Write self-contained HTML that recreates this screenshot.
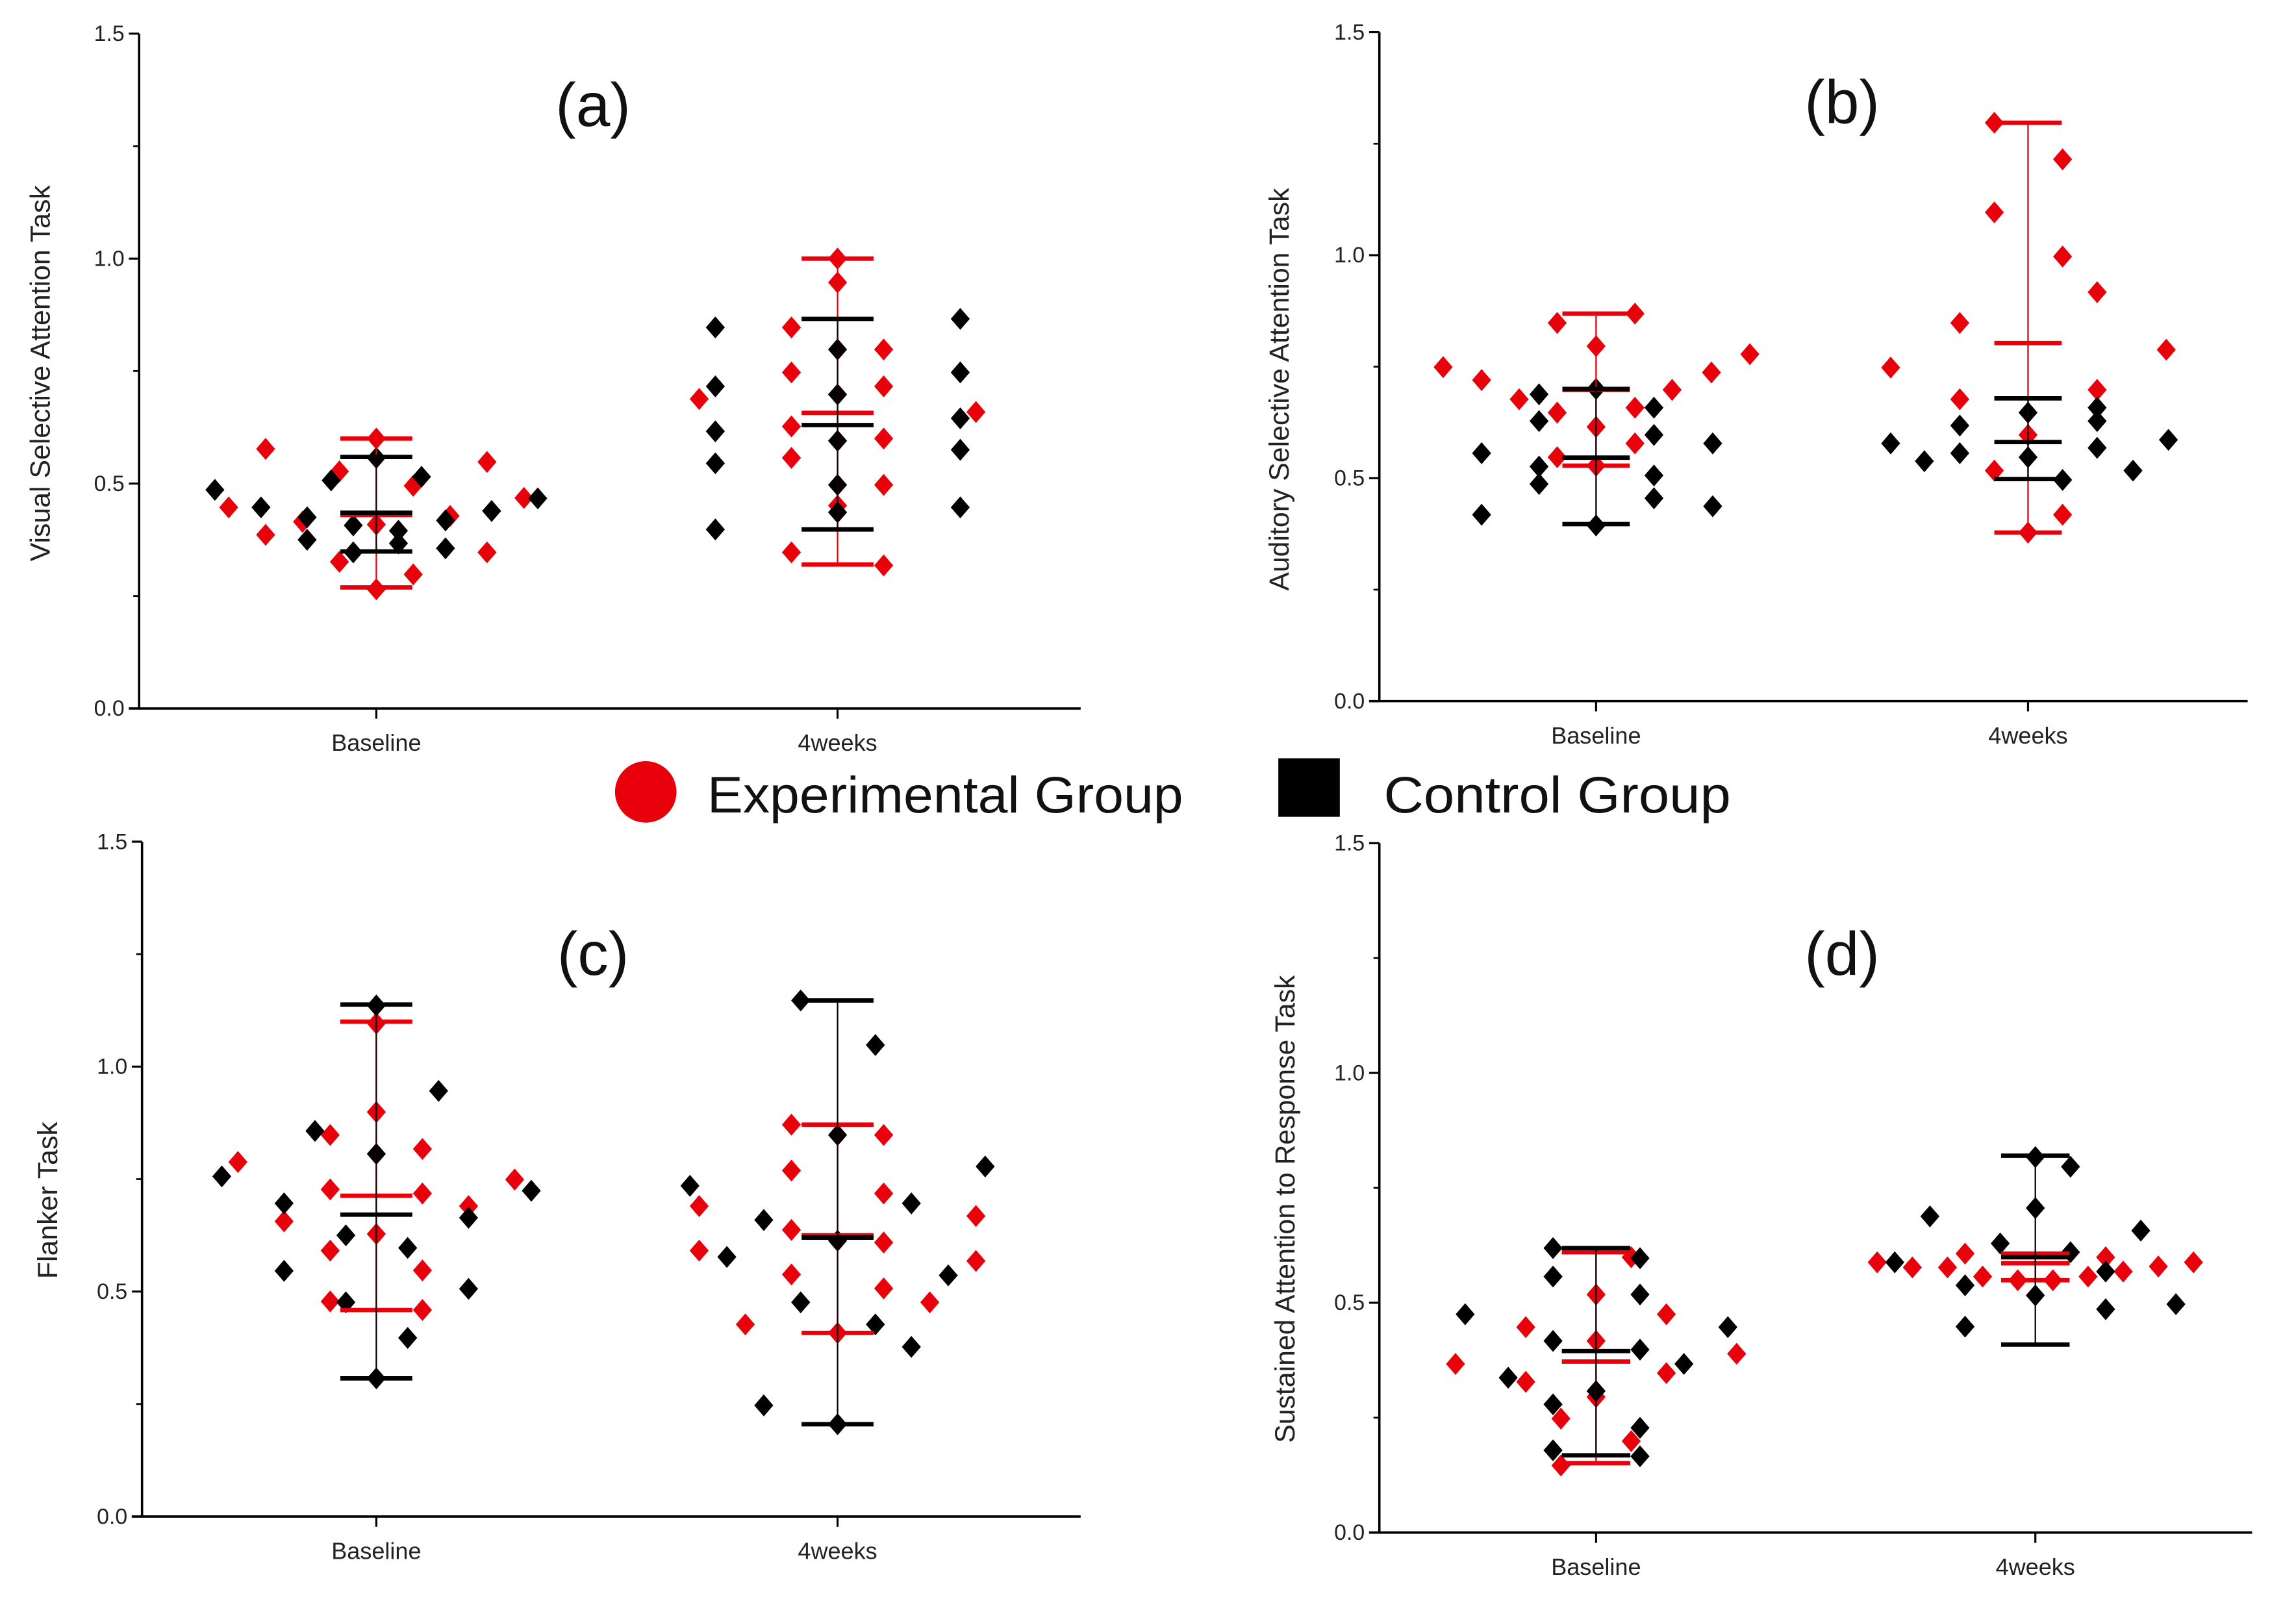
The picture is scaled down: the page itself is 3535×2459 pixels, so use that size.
<!DOCTYPE html>
<html><head><meta charset="utf-8"><style>
html,body{margin:0;padding:0;background:#fff;}
svg{display:block;}
text{font-family:"Liberation Sans","DejaVu Sans",sans-serif;}
</style></head><body>
<svg id="fig" xmlns="http://www.w3.org/2000/svg" width="3535" height="2459" viewBox="0 0 1568 1091" preserveAspectRatio="none">
<rect width="1568" height="1091" fill="#fff"/>
<g>
  <circle cx="441" cy="541" r="21" fill="#e8000b"/>
  <text x="483" y="555" font-size="35" fill="#111" textLength="325" lengthAdjust="spacingAndGlyphs">Experimental Group</text>
  <rect x="873" y="518" width="42" height="40" fill="#000"/>
  <text x="945" y="555" font-size="35" fill="#111" textLength="237" lengthAdjust="spacingAndGlyphs">Control Group</text>
</g>
</svg>
<script>
// ---------- data (x jitter in category units, value) ----------
const categories = ["Baseline", "4weeks"];
const yTicks = [0.0, 0.5, 1.0, 1.5];
const yTickLabels = ["0.0", "0.5", "1.0", "1.5"];

// Panel (a) Visual Selective Attention
const aExpBase = [[-0.32,0.447],[-0.24,0.577],[-0.24,0.386],[-0.16,0.415],[-0.08,0.527],[-0.08,0.326],[0,0.6],[0,0.409],[0,0.265],[0.08,0.495],[0.08,0.298],[0.16,0.428],[0.24,0.548],[0.24,0.347],[0.32,0.468]];
const aCtlBase = [[-0.35,0.486],[-0.25,0.447],[-0.15,0.425],[-0.15,0.375],[-0.098,0.507],[-0.05,0.407],[-0.05,0.347],[0,0.557],[0.048,0.395],[0.048,0.367],[0.098,0.515],[0.15,0.418],[0.15,0.356],[0.25,0.439],[0.35,0.467]];
const aExp4w = [[-0.30,0.688],[-0.1,0.847],[-0.1,0.747],[-0.1,0.627],[-0.1,0.557],[-0.1,0.347],[0,1.0],[0,0.947],[0,0.451],[0.1,0.798],[0.1,0.716],[0.1,0.6],[0.1,0.497],[0.1,0.318],[0.3,0.659]];
const aCtl4w = [[-0.265,0.847],[-0.265,0.716],[-0.265,0.616],[-0.265,0.545],[-0.265,0.398],[0,0.798],[0,0.698],[0,0.595],[0,0.497],[0,0.436],[0.266,0.866],[0.266,0.747],[0.266,0.645],[0.266,0.575],[0.266,0.447]];
// error bars: [low, mean, high]
const aExpBars = [[0.269,0.43,0.6],[0.32,0.657,1.0]];
const aCtlBars = [[0.349,0.435,0.559],[0.398,0.63,0.866]];

// Panel (b) Auditory Selective Attention
const bExpBase = [[-0.354,0.749],[-0.265,0.72],[-0.178,0.677],[-0.09,0.848],[-0.09,0.647],[-0.09,0.547],[0,0.796],[0,0.615],[0,0.528],[0.09,0.869],[0.09,0.658],[0.09,0.578],[0.176,0.698],[0.267,0.737],[0.356,0.778]];
const bCtlBase = [[-0.265,0.556],[-0.265,0.418],[-0.132,0.688],[-0.132,0.628],[-0.132,0.526],[-0.132,0.487],[0,0.7],[0,0.394],[0.134,0.658],[0.134,0.597],[0.134,0.506],[0.134,0.455],[0.27,0.578],[0.27,0.437]];
const bExp4w = [[-0.318,0.748],[-0.158,0.848],[-0.158,0.677],[-0.078,1.297],[-0.078,1.096],[-0.078,0.517],[0,0.597],[0.08,1.215],[0.08,0.997],[0.08,0.418],[0,0.378],[0.16,0.917],[0.16,0.698],[0.32,0.788]];
const bCtl4w = [[-0.318,0.578],[-0.24,0.538],[-0.158,0.618],[-0.158,0.556],[0,0.647],[0,0.547],[0.08,0.496],[0.16,0.658],[0.16,0.628],[0.16,0.568],[0.243,0.517],[0.325,0.586]];
const bExpBars = [[0.528,0.698,0.869],[0.378,0.803,1.297]];
const bCtlBars = [[0.397,0.546,0.70],[0.498,0.581,0.679]];

// Panel (c) Flanker
const cExpBase = [[-0.3,0.788],[-0.2,0.656],[-0.1,0.848],[-0.1,0.727],[-0.1,0.591],[-0.1,0.478],[0,1.096],[0,0.899],[0,0.628],[0.1,0.817],[0.1,0.718],[0.1,0.547],[0.1,0.459],[0.2,0.69],[0.3,0.749]];
const cCtlBase = [[-0.335,0.756],[-0.2,0.696],[-0.2,0.546],[-0.133,0.857],[-0.066,0.625],[-0.066,0.476],[0,1.136],[0,0.806],[0,0.307],[0.068,0.597],[0.068,0.397],[0.135,0.946],[0.2,0.664],[0.2,0.506],[0.336,0.724]];
const cExp4w = [[-0.3,0.69],[-0.3,0.591],[-0.2,0.427],[-0.1,0.871],[-0.1,0.769],[-0.1,0.637],[-0.1,0.538],[0,0.408],[0.1,0.848],[0.1,0.718],[0.1,0.609],[0.1,0.507],[0.2,0.476],[0.3,0.668],[0.3,0.568]];
const cCtl4w = [[-0.32,0.735],[-0.24,0.577],[-0.16,0.659],[-0.16,0.247],[-0.08,1.147],[-0.08,0.476],[0,0.848],[0,0.613],[0,0.205],[0.082,1.048],[0.082,0.427],[0.16,0.696],[0.16,0.377],[0.24,0.536],[0.32,0.778]];
const cExpBars = [[0.459,0.713,1.1],[0.408,0.625,0.871]];
const cCtlBars = [[0.307,0.671,1.138],[0.205,0.62,1.147]];

// Panel (d) Sustained Attention to Response
const dExpBase = [[-0.32,0.367],[-0.16,0.447],[-0.16,0.328],[-0.08,0.248],[0,0.518],[0,0.417],[0,0.295],[-0.08,0.146],[0.08,0.599],[0.08,0.199],[0.16,0.475],[0.16,0.347],[0.32,0.389]];
const dCtlBase = [[-0.298,0.475],[-0.2,0.337],[-0.098,0.557],[-0.098,0.417],[-0.098,0.279],[-0.098,0.179],[-0.098,0.619],[0,0.308],[0.1,0.597],[0.1,0.518],[0.1,0.398],[0.1,0.228],[0.1,0.166],[0.2,0.367],[0.3,0.447]];
const dExp4w = [[-0.36,0.588],[-0.28,0.577],[-0.2,0.577],[-0.16,0.607],[-0.12,0.557],[-0.04,0.549],[0.04,0.549],[0.12,0.557],[0.16,0.599],[0.2,0.568],[0.28,0.579],[0.36,0.588]];
const dCtl4w = [[-0.32,0.588],[-0.24,0.688],[-0.16,0.538],[-0.16,0.448],[-0.08,0.629],[0,0.817],[0,0.706],[0,0.516],[0.08,0.796],[0.08,0.61],[0.16,0.568],[0.16,0.486],[0.24,0.657],[0.32,0.497]];
const dExpBars = [[0.151,0.372,0.61],[0.549,0.586,0.607]];
const dCtlBars = [[0.168,0.395,0.619],[0.409,0.599,0.82]];

const panels = [
  {id:"a", title:"(a)", ylab:"Visual Selective Attention Task", ax:95, axEnd:738, y0:484, y15:23, cx:[257,572], tx:405, ty:86, lx:27, ly:255,
   exp:[aExpBase,aExp4w], ctl:[aCtlBase,aCtl4w], eb:aExpBars, cb:aCtlBars},
  {id:"b", title:"(b)", ylab:"Auditory Selective Attention Task", ax:942, axEnd:1535, y0:479, y15:22, cx:[1090,1385], tx:1258, ty:84, lx:873, ly:266,
   exp:[bExpBase,bExp4w], ctl:[bCtlBase,bCtl4w], eb:bExpBars, cb:bCtlBars},
  {id:"c", title:"(c)", ylab:"Flanker Task", ax:97, axEnd:738, y0:1036, y15:575, cx:[257,572], tx:405, ty:666, lx:32, ly:820,
   exp:[cExpBase,cExp4w], ctl:[cCtlBase,cCtl4w], eb:cExpBars, cb:cCtlBars},
  {id:"d", title:"(d)", ylab:"Sustained Attention to Response Task", ax:942, axEnd:1538, y0:1047, y15:576, cx:[1090,1390], tx:1258, ty:666, lx:877, ly:826,
   exp:[dExpBase,dExp4w], ctl:[dCtlBase,dCtl4w], eb:dExpBars, cb:dCtlBars}
];

const NS = "http://www.w3.org/2000/svg";
const svg = document.getElementById("fig");
function mk(tag, attrs, parent){
  const e = document.createElementNS(NS, tag);
  for (const k in attrs) e.setAttribute(k, attrs[k]);
  parent.appendChild(e);
  return e;
}
const RED = "#e8000b";

panels.forEach(p => {
  const g = mk("g", {}, svg);
  
  
  const yS = v => p.y0 - v * (p.y0 - p.y15) / 1.5;
  const spacing = p.cx[1] - p.cx[0];
  const xS = (ci, off) => p.cx[ci] + off * spacing;

  // axes
  const yAxis = mk("line", {x1:p.ax, y1:p.y15, x2:p.ax, y2:p.y0, stroke:"#000", "stroke-width":1.6}, g);
  
  
  const xAxis = mk("line", {x1:p.ax-7, y1:p.y0, x2:p.axEnd, y2:p.y0, stroke:"#000", "stroke-width":1.6}, g);
  
  
  for (let v = 0.25; v < 1.5; v += 0.5) {
    const mt = mk("line", {x1:p.ax-4, y1:yS(v), x2:p.ax, y2:yS(v), stroke:"#000", "stroke-width":1.2}, g);
    
    
  }
  yTicks.forEach((v, i) => {
    const t = mk("line", {x1:p.ax-7, y1:yS(v), x2:p.ax, y2:yS(v), stroke:"#000", "stroke-width":1.4}, g);
    
    
    const lb = mk("text", {x:p.ax-10, y:yS(v)+5, "font-size":15, "text-anchor":"end", fill:"#222"}, g);
    
    
    lb.textContent = yTickLabels[i];
  });
  categories.forEach((c, ci) => {
    const t = mk("line", {x1:p.cx[ci], y1:p.y0, x2:p.cx[ci], y2:p.y0+7, stroke:"#000", "stroke-width":1.4}, g);
    
    
    const lb = mk("text", {x:p.cx[ci], y:p.y0+29, "font-size":16, "text-anchor":"middle", fill:"#222"}, g);
    
    
    lb.textContent = c;
  });
  const yl = mk("text", {x:p.lx, y:p.ly, "font-size":19, "text-anchor":"middle", fill:"#222", transform:`rotate(-90 ${p.lx} ${p.ly})`}, g);
  
  
  yl.setAttribute('dy', '7');
  yl.textContent = p.ylab;
  const tt = mk("text", {x:p.tx, y:p.ty, "font-size":42, "text-anchor":"middle", fill:"#111"}, g);
  
  
  tt.textContent = p.title;

  // points
  function drawPts(arr, ci, color, name){
    arr.forEach(pt => {
      const x = xS(ci, pt[0]), y = yS(pt[1]);
      const d = mk("polygon", {points:`${x},${y-7.5} ${x+6.5},${y} ${x},${y+7.5} ${x-6.5},${y}`, fill:color}, g);
      
      
    });
  }
  // error bars
  function drawBar(b, ci, color, name, w){
    const x = p.cx[ci], hw = 0.078 * spacing;
    const gb = mk("g", {}, g);
    
    
    mk("line", {x1:x, y1:yS(b[0]), x2:x, y2:yS(b[2]), stroke:color, "stroke-width":1}, gb);
    [b[0], b[1], b[2]].forEach(v => mk("line", {x1:x-hw, y1:yS(v), x2:x+hw, y2:yS(v), stroke:color, "stroke-width":w}, gb));
  }
  [0,1].forEach(ci => {
    drawPts(p.exp[ci], ci, RED, 'experimental-point');
    drawPts(p.ctl[ci], ci, "#000", 'control-point');
  });
  [0,1].forEach(ci => {
    drawBar(p.eb[ci], ci, RED, 'experimental-error-bar', 3);
    drawBar(p.cb[ci], ci, "#000", 'control-error-bar', 3);
  });
});
</script>
</body></html>
